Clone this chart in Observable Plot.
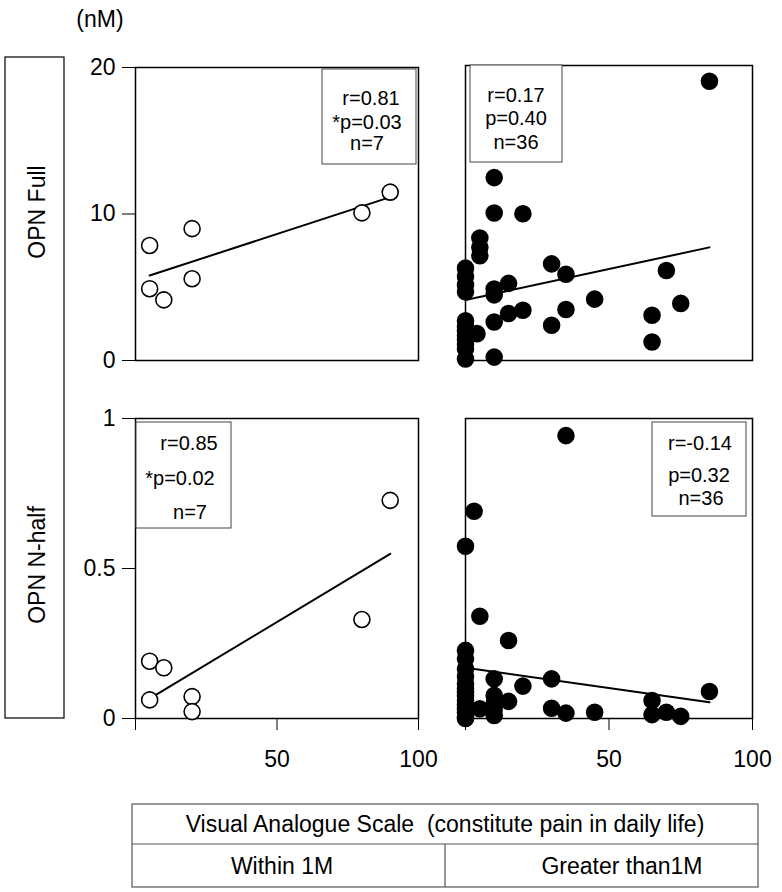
<!DOCTYPE html>
<html>
<head>
<meta charset="utf-8">
<script src="https://cdn.jsdelivr.net/npm/d3@7"></script>
<script src="https://cdn.jsdelivr.net/npm/@observablehq/plot@0.6"></script>
<style>
  html, body { margin: 0; padding: 0; background: #fff; }
  #chart { position: relative; width: 782px; height: 892px; overflow: hidden; font-family: "Liberation Sans", Arial, sans-serif; }
  #chart > svg { position: absolute; }
</style>
</head>
<body>
<div id="chart"></div>
<script>
// ---------- data ----------
// Within 1M (open circles)
const fullWithinX = [5, 5, 10, 20, 20, 80, 90];
const fullWithinY = [7.85, 4.9, 4.14, 9.0, 5.58, 10.08, 11.49];
const halfWithinX = [5, 10, 5, 20, 20, 80, 90];
const halfWithinY = [0.191, 0.169, 0.062, 0.073, 0.023, 0.33, 0.727];

// Greater than 1M (filled circles)
const fullGreaterX = [85, 10, 10, 20, 5, 5, 5, 0, 0, 0, 0, 30, 35, 70, 15, 10, 10, 45, 75, 15, 20, 35, 65, 10, 30, 65, 10, 0, 0, 0, 0, 0, 0, 0, 0, 4];
const fullGreaterY = [18.93, 12.4, 10.0, 9.95, 8.3, 7.67, 7.1, 6.26, 5.69, 5.12, 4.66, 6.55, 5.85, 6.1, 5.23, 4.85, 4.45, 4.16, 3.87, 3.19, 3.41, 3.46, 3.07, 2.61, 2.39, 1.25, 0.23, 0.1, 2.7, 2.3, 2.0, 1.7, 1.4, 1.1, 0.8, 1.82];
const halfGreaterX = [35, 3, 0, 5, 15, 0, 0, 0, 10, 30, 20, 0, 0, 0, 0, 0, 10, 15, 5, 10, 30, 35, 45, 85, 65, 65, 70, 75, 0, 0, 0, 0, 0, 10, 10, 0];
const halfGreaterY = [0.943, 0.691, 0.574, 0.341, 0.26, 0.227, 0.199, 0.166, 0.132, 0.132, 0.108, 0.116, 0.088, 0.06, 0.032, 0.004, 0.077, 0.057, 0.032, 0.01, 0.034, 0.018, 0.021, 0.09, 0.06, 0.013, 0.021, 0.007, 0.14, 0.1, 0.075, 0.045, 0.02, 0.03, 0.05, 0.0];

// regression lines (end points)
const fitFullWithinX = [5, 90],  fitFullWithinY = [5.8, 11.15];
const fitFullGreaterX = [0, 85], fitFullGreaterY = [4.1, 7.67];
const fitHalfWithinX = [5, 90],  fitHalfWithinY = [0.066, 0.549];
const fitHalfGreaterX = [0, 85], fitHalfGreaterY = [0.169, 0.054];

// statistics text
const statsFullWithin = ["r=0.81", "*p=0.03", "n=7"];
const statsFullGreater = ["r=0.17", "p=0.40", "n=36"];
const statsHalfWithin = ["r=0.85", "*p=0.02", "n=7"];
const statsHalfGreater = ["r=-0.14", "p=0.32", "n=36"];

// axis ticks / labels
const xTicks = [0, 50, 100];
const yTicksFull = [0, 10, 20];
const yTicksHalf = [0, 0.5, 1];
const rowLabels = ["OPN Full", "OPN N-half"];
const unitLabel = "(nM)";
const tableTitle = "Visual Analogue Scale  (constitute pain in daily life)";
const groupLabels = ["Within 1M", "Greater than1M"];

// ---------- drawing ----------
const FONT = "'Liberation Sans', Arial, Helvetica, sans-serif";
const chart = document.getElementById("chart");
const zip = (xs, ys) => xs.map((x, i) => ({x, y: ys[i]}));

function panel(o) {
  const svg = Plot.plot({
    width: o.width, height: o.height,
    marginLeft: o.ml, marginRight: o.mr, marginTop: o.mt, marginBottom: o.mb,
    style: {fontFamily: FONT, fontSize: "23px", color: "black", background: "transparent", overflow: "visible"},
    x: {domain: [0, 100], axis: o.showX ? "bottom" : null, ticks: xTicks,
        tickFormat: d => d === 0 ? "" : String(d), tickSize: 12, tickPadding: 20, label: null},
    y: {domain: o.yDomain, axis: o.showY ? "left" : null, ticks: o.yTicks,
        tickFormat: d => String(d), tickSize: 13, tickPadding: 7, label: null},
    marks: [
      Plot.frame({stroke: "black", strokeWidth: 1.5}),
      Plot.line(zip(o.fitX, o.fitY), {x: "x", y: "y", stroke: "black", strokeWidth: 2}),
      Plot.dot(zip(o.xs, o.ys), {x: "x", y: "y", r: 8, fill: o.open ? "white" : "black", stroke: "black", strokeWidth: 1.6})
    ]
  });
  svg.style.left = o.left + "px";
  svg.style.top = o.top + "px";
  chart.appendChild(svg);
}

panel({left: 0, top: 0, width: 440, height: 380, ml: 135, mr: 22, mt: 67, mb: 20,
  yDomain: [0, 20], yTicks: yTicksFull, showY: true, showX: false, open: true,
  xs: fullWithinX, ys: fullWithinY, fitX: fitFullWithinX, fitY: fitFullWithinY});
panel({left: 440, top: 0, width: 342, height: 380, ml: 25, mr: 30, mt: 65, mb: 20,
  yDomain: [0, 20], yTicks: yTicksFull, showY: false, showX: false, open: false,
  xs: fullGreaterX, ys: fullGreaterY, fitX: fitFullGreaterX, fitY: fitFullGreaterY});
panel({left: 0, top: 380, width: 440, height: 400, ml: 135, mr: 22, mt: 38, mb: 62,
  yDomain: [0, 1], yTicks: yTicksHalf, showY: true, showX: true, open: true,
  xs: halfWithinX, ys: halfWithinY, fitX: fitHalfWithinX, fitY: fitHalfWithinY});
panel({left: 440, top: 380, width: 342, height: 400, ml: 25, mr: 30, mt: 38, mb: 62,
  yDomain: [0, 1], yTicks: yTicksHalf, showY: false, showX: true, open: false,
  xs: halfGreaterX, ys: halfGreaterY, fitX: fitHalfGreaterX, fitY: fitHalfGreaterY});

// ---------- overlay: labels, stat boxes, table ----------
const ov = d3.select(chart).append("svg")
  .attr("width", 782).attr("height", 892)
  .style("left", "0px").style("top", "0px")
  .style("font-family", FONT);

function txt(s, x, y, size, extra) {
  const t = ov.append("text").attr("x", x).attr("y", y)
    .attr("text-anchor", "middle").attr("dominant-baseline", "central")
    .attr("font-size", size).attr("fill", "black").style("white-space", "pre").text(s);
  if (extra) extra(t);
  return t;
}

// unit label
txt(unitLabel, 100, 19, 23);

// row label box
ov.append("rect").attr("x", 5).attr("y", 57).attr("width", 59).attr("height", 661)
  .attr("fill", "none").attr("stroke", "black").attr("stroke-width", 1.2);
txt(rowLabels[0], 37, 212, 23, t => t.attr("transform", "rotate(-90 37 212)"));
txt(rowLabels[1], 37, 565, 23, t => t.attr("transform", "rotate(-90 37 565)"));

// stat boxes
function statBox(lines, x0, y0, x1, y1, xs, ys) {
  ov.append("rect").attr("x", x0).attr("y", y0).attr("width", x1 - x0).attr("height", y1 - y0)
    .attr("fill", "white").attr("stroke", "#444").attr("stroke-width", 1);
  lines.forEach((s, i) => txt(s, xs[i], ys[i], 20));
}
statBox(statsFullWithin, 322, 69, 416, 164, [371, 367, 367], [98, 122, 143]);
statBox(statsFullGreater, 470, 65, 562, 162, [516, 516, 516], [95, 118, 142]);
statBox(statsHalfWithin, 136, 422, 231, 528, [189, 180, 190], [443, 478, 512]);
statBox(statsHalfGreater, 652, 422, 746, 516, [700, 699, 701], [443, 475, 498]);

// bottom table
const tb = ov.append("g").attr("fill", "none").attr("stroke", "#555").attr("stroke-width", 1.2);
tb.append("rect").attr("x", 132).attr("y", 804).attr("width", 626).attr("height", 83);
tb.append("line").attr("x1", 132).attr("x2", 758).attr("y1", 844).attr("y2", 844);
tb.append("line").attr("x1", 445).attr("x2", 445).attr("y1", 844).attr("y2", 887);
txt(tableTitle, 445, 824, 23);
txt(groupLabels[0], 282, 866, 23);
txt(groupLabels[1], 622, 866, 23);
</script>
</body>
</html>
